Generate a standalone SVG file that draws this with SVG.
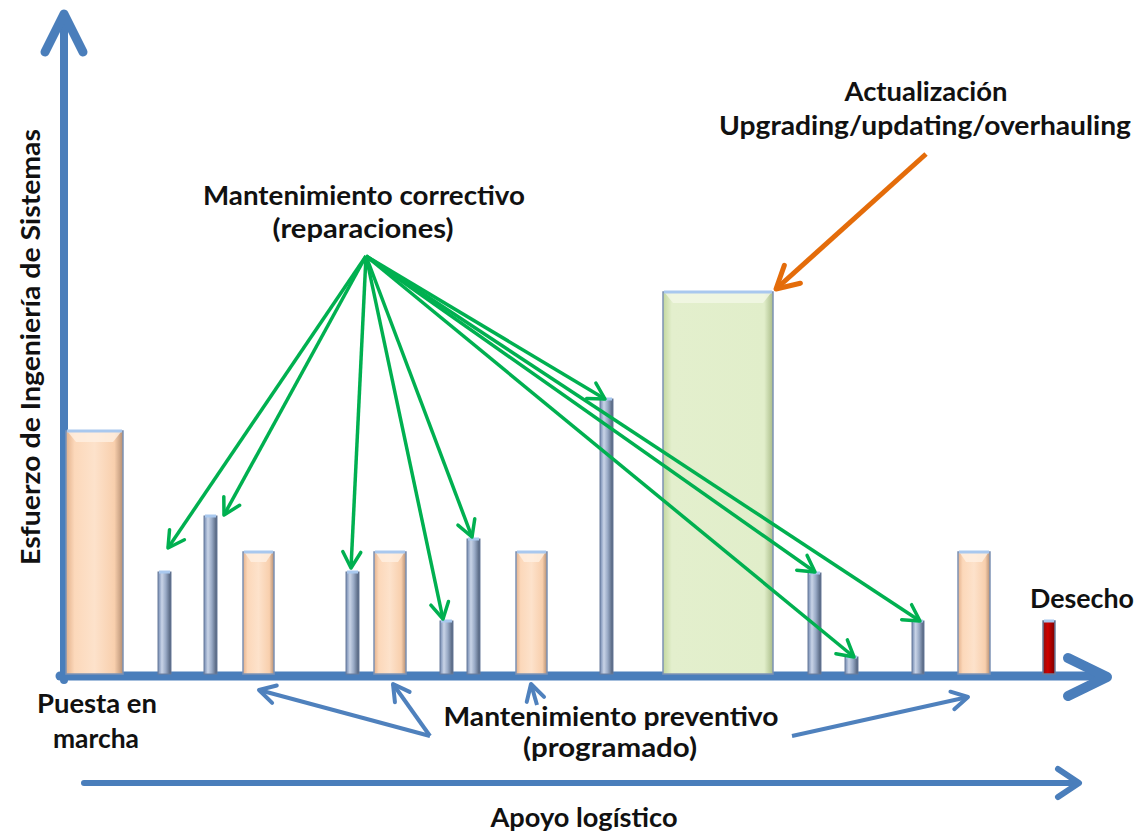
<svg xmlns="http://www.w3.org/2000/svg" width="1145" height="836" viewBox="0 0 1145 836">
<defs>
<style>
.t{font-family:Lato,"Liberation Sans",Arial,sans-serif;font-weight:bold;font-size:26px;fill:#111;}
.ax{stroke:#4A7EBB;fill:none;stroke-linecap:round;stroke-linejoin:round;}
.g{stroke:#00B050;stroke-width:3.5;fill:none;}
.b{stroke:#4F81BD;stroke-width:4;fill:none;}
.o{stroke:#E46C0A;stroke-width:5;fill:none;}
.peach{fill:url(#pg);stroke:#7E93B5;stroke-width:1.5;}
.thin{fill:url(#bg);stroke:#6A7D9C;stroke-width:1;}
.cap{stroke:#A9C8EE;stroke-width:3;}
.hl{fill:#FFF0E2;opacity:0.8;}
</style>
<linearGradient id="pg" x1="0" y1="0" x2="1" y2="0">
<stop offset="0" stop-color="#E3B18C"/><stop offset="0.15" stop-color="#FCD8BA"/><stop offset="0.5" stop-color="#FDE2CB"/><stop offset="0.85" stop-color="#F8CFAD"/><stop offset="1" stop-color="#B58E72"/>
</linearGradient>
<linearGradient id="bg" x1="0" y1="0" x2="1" y2="0">
<stop offset="0" stop-color="#7188B0"/><stop offset="0.3" stop-color="#C9D4E7"/><stop offset="0.6" stop-color="#98A9C5"/><stop offset="1" stop-color="#4B5B75"/>
</linearGradient>
<linearGradient id="gg" x1="0" y1="0" x2="1" y2="0">
<stop offset="0" stop-color="#C3D79F"/><stop offset="0.08" stop-color="#E3EFCD"/><stop offset="0.92" stop-color="#E1EECA"/><stop offset="1" stop-color="#A9BC88"/>
</linearGradient>
<linearGradient id="rg" x1="0" y1="0" x2="1" y2="0">
<stop offset="0" stop-color="#8C1010"/><stop offset="0.4" stop-color="#D00000"/><stop offset="1" stop-color="#7A0000"/>
</linearGradient>
<marker id="mg" markerUnits="userSpaceOnUse" orient="auto" overflow="visible" markerWidth="1" markerHeight="1" refX="0" refY="0">
<path d="M-16,-9 L0,0 L-16,9" fill="none" stroke="#00B050" stroke-width="3.5" stroke-linecap="round" stroke-linejoin="round"/>
</marker>
<marker id="mb" markerUnits="userSpaceOnUse" orient="auto" overflow="visible" markerWidth="1" markerHeight="1" refX="0" refY="0">
<path d="M-16,-9 L0,0 L-16,9" fill="none" stroke="#4F81BD" stroke-width="4" stroke-linecap="round" stroke-linejoin="round"/>
</marker>
<marker id="mo" markerUnits="userSpaceOnUse" orient="auto" overflow="visible" markerWidth="1" markerHeight="1" refX="0" refY="0">
<path d="M-22,-12 L0,0 L-22,12" fill="none" stroke="#E46C0A" stroke-width="5" stroke-linecap="round" stroke-linejoin="round"/>
</marker>
</defs>
<rect width="1145" height="836" fill="#fff"/>

<g id="axes">
<line class="ax" x1="64" y1="680" x2="64" y2="16" stroke-width="8"/>
<polyline class="ax" points="45,52 64,14 83,52" stroke-width="9"/>
<line class="ax" x1="60" y1="676" x2="1104" y2="676" stroke-width="9"/>
<polyline class="ax" points="1068,658 1107,677 1068,696" stroke-width="10"/>
<line class="ax" x1="84" y1="783" x2="1076" y2="783" stroke-width="6"/>
<polyline class="ax" points="1058,769 1079,783 1058,797" stroke-width="6"/>
</g>

<g id="bars">
<g id="bar1"><rect class="peach" x="66" y="431" width="57" height="243"/><polygon class="hl" points="68,432 121,432 113,442 76,442"/><line class="cap" x1="67" y1="431" x2="122" y2="431"/></g>
<g id="bar2"><rect class="thin" x="158" y="572" width="13" height="102"/><line class="cap" x1="159" y1="572" x2="170" y2="572"/></g>
<g id="bar3"><rect class="thin" x="204" y="516" width="13" height="158"/><line class="cap" x1="205" y1="516" x2="216" y2="516"/></g>
<g id="bar4"><rect class="peach" x="243" y="552" width="31" height="122"/><polygon class="hl" points="245,553 272,553 266,562 251,562"/><line class="cap" x1="244" y1="552" x2="273" y2="552"/></g>
<g id="bar5"><rect class="thin" x="346" y="572" width="13" height="102"/><line class="cap" x1="347" y1="572" x2="358" y2="572"/></g>
<g id="bar6"><rect class="peach" x="374" y="552" width="32" height="122"/><polygon class="hl" points="376,553 404,553 398,562 382,562"/><line class="cap" x1="375" y1="552" x2="405" y2="552"/></g>
<g id="bar7"><rect class="thin" x="440" y="621" width="13" height="53"/><line class="cap" x1="441" y1="621" x2="452" y2="621"/></g>
<g id="bar8"><rect class="thin" x="467" y="539" width="13" height="135"/><line class="cap" x1="468" y1="539" x2="479" y2="539"/></g>
<g id="bar9"><rect class="peach" x="516" y="552" width="31" height="122"/><polygon class="hl" points="518,553 545,553 539,562 524,562"/><line class="cap" x1="517" y1="552" x2="546" y2="552"/></g>
<g id="bar10"><rect class="thin" x="600" y="399" width="13" height="275"/><line class="cap" x1="601" y1="399" x2="612" y2="399"/></g>
<g id="bar11"><rect x="663" y="292" width="110" height="382" fill="url(#gg)" stroke="#7E93B5" stroke-width="1.5"/><polygon points="665,293 771,293 763,303 673,303" fill="#F2F8E6" opacity="0.8"/><line class="cap" x1="664" y1="292" x2="772" y2="292"/></g>
<g id="bar12"><rect class="thin" x="808" y="573" width="13" height="101"/><line class="cap" x1="809" y1="573" x2="820" y2="573"/></g>
<g id="bar13"><rect class="thin" x="845" y="657" width="13" height="17"/><line class="cap" x1="846" y1="657" x2="857" y2="657"/></g>
<g id="bar14"><rect class="thin" x="912" y="621" width="12" height="53"/><line class="cap" x1="913" y1="621" x2="923" y2="621"/></g>
<g id="bar15"><rect class="peach" x="958" y="552" width="32" height="122"/><polygon class="hl" points="960,553 988,553 982,562 966,562"/><line class="cap" x1="959" y1="552" x2="989" y2="552"/></g>
<g id="bar16"><rect x="1043" y="621" width="12" height="53" fill="url(#rg)" stroke="#6A7D9C" stroke-width="1.5"/><line class="cap" x1="1044" y1="621" x2="1054" y2="621"/></g>
</g>

<g id="connectors">
<line class="g" x1="366" y1="256" x2="168" y2="548" marker-end="url(#mg)"/>
<line class="g" x1="366" y1="256" x2="224" y2="515" marker-end="url(#mg)"/>
<line class="g" x1="366" y1="256" x2="351" y2="568" marker-end="url(#mg)"/>
<line class="g" x1="366" y1="256" x2="443" y2="619" marker-end="url(#mg)"/>
<line class="g" x1="366" y1="256" x2="472" y2="537" marker-end="url(#mg)"/>
<line class="g" x1="366" y1="256" x2="605" y2="399" marker-end="url(#mg)"/>
<line class="g" x1="366" y1="256" x2="815" y2="572" marker-end="url(#mg)"/>
<line class="g" x1="366" y1="256" x2="854" y2="657" marker-end="url(#mg)"/>
<line class="g" x1="366" y1="256" x2="920" y2="621" marker-end="url(#mg)"/>
<line class="o" x1="926" y1="154" x2="776" y2="289" marker-end="url(#mo)"/>
<line class="b" x1="430" y1="736" x2="259" y2="690" marker-end="url(#mb)"/>
<line class="b" x1="430" y1="736" x2="393" y2="684" marker-end="url(#mb)"/>
<line class="b" x1="537" y1="705" x2="531" y2="684" marker-end="url(#mb)"/>
<line class="b" x1="792" y1="736" x2="968" y2="697" marker-end="url(#mb)"/>
</g>

<g id="labels">
<text class="t" x="926" y="101" text-anchor="middle" textLength="163" lengthAdjust="spacingAndGlyphs">Actualización</text>
<text class="t" x="925" y="135" text-anchor="middle" textLength="412" lengthAdjust="spacingAndGlyphs">Upgrading/updating/overhauling</text>
<text class="t" x="364" y="205" text-anchor="middle" textLength="322" lengthAdjust="spacingAndGlyphs">Mantenimiento correctivo</text>
<text class="t" x="363" y="238" text-anchor="middle" textLength="181" lengthAdjust="spacingAndGlyphs">(reparaciones)</text>
<text class="t" x="0" y="0" text-anchor="middle" transform="translate(40,347) rotate(-90)" textLength="436" lengthAdjust="spacingAndGlyphs">Esfuerzo de Ingeniería de Sistemas</text>
<text class="t" x="1082" y="608" text-anchor="middle" textLength="104" lengthAdjust="spacingAndGlyphs">Desecho</text>
<text class="t" x="97" y="713" text-anchor="middle" textLength="120" lengthAdjust="spacingAndGlyphs">Puesta en</text>
<text class="t" x="96" y="748" text-anchor="middle" style="font-size:27px" textLength="86" lengthAdjust="spacingAndGlyphs">marcha</text>
<text class="t" x="611" y="726" text-anchor="middle" textLength="335" lengthAdjust="spacingAndGlyphs">Mantenimiento preventivo</text>
<text class="t" x="610" y="757" text-anchor="middle" textLength="174" lengthAdjust="spacingAndGlyphs">(programado)</text>
<text class="t" x="584" y="827" text-anchor="middle" textLength="187" lengthAdjust="spacingAndGlyphs">Apoyo logístico</text>
</g>
</svg>
